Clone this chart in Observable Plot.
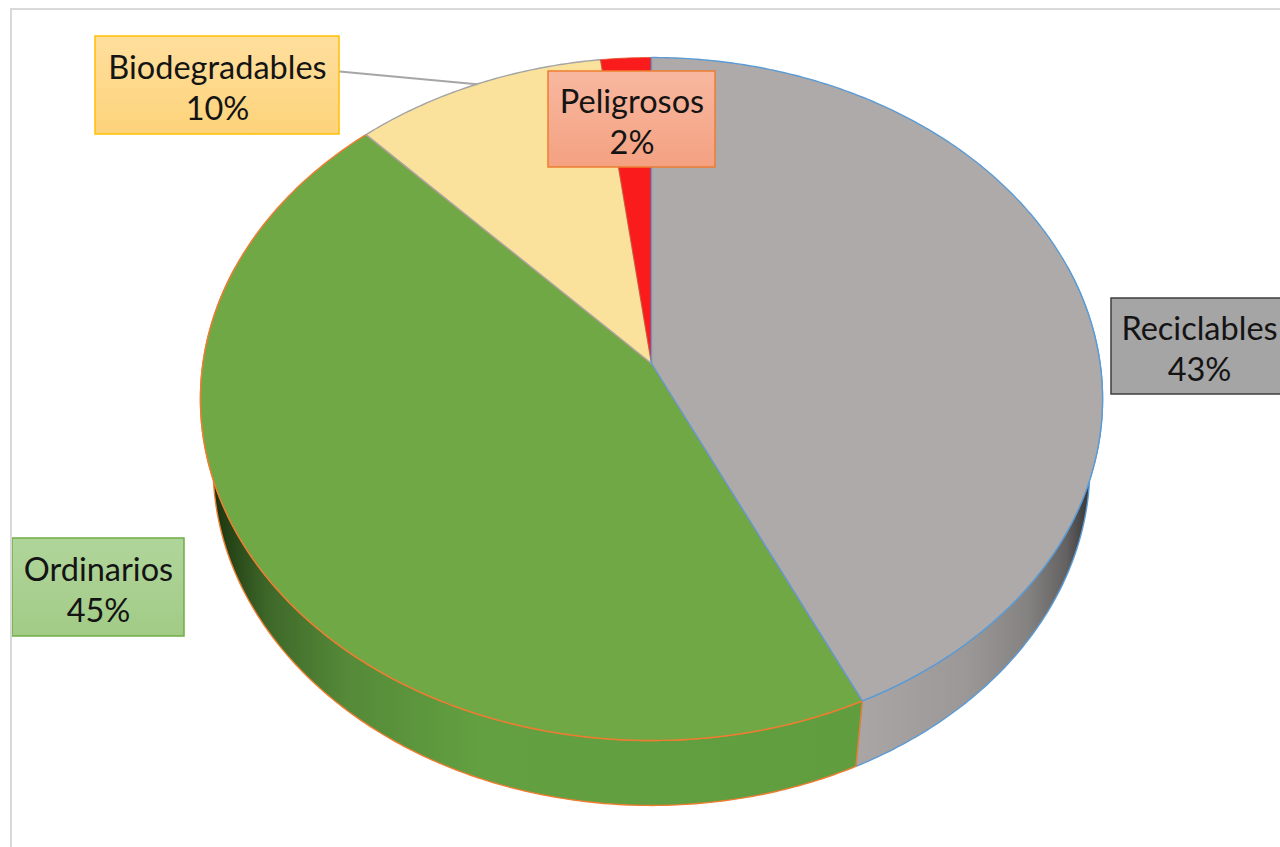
<!DOCTYPE html>
<html>
<head>
<meta charset="utf-8">
<script src="https://cdn.jsdelivr.net/npm/d3@7"></script>
<script src="https://cdn.jsdelivr.net/npm/@observablehq/plot@0.6"></script>
<style>
  html, body { margin: 0; padding: 0; background: white; }
  #wrap { position: relative; width: 1280px; height: 847px; overflow: hidden; }
  #frame { position: absolute; left: 10px; top: 8px; width: 1300px; height: 900px;
           border-top: 2px solid #d9d9d9; border-left: 2px solid #d9d9d9; pointer-events: none; }
</style>
</head>
<body>
<div id="wrap"><div id="chart"></div><div id="frame"></div></div>
<script>
// ---- data ----
const categories = ["Reciclables", "Ordinarios", "Biodegradables", "Peligrosos"];
const values = [43, 45, 10, 2];

// ---- styles (per category) ----
const topColors = { Reciclables: "#aeaaa9", Ordinarios: "#70a845", Biodegradables: "#fae29c", Peligrosos: "#fa1c1c" };
const edgeColors = { Reciclables: "#5b9bd5", Ordinarios: "#ed7d31", Biodegradables: "#a5a5a5", Peligrosos: "#e0502a" };
const sideFills = { Reciclables: "url(#gSideGray)", Ordinarios: "url(#gSideGreen)" };
const boxFills = { Reciclables: "#a5a5a5", Ordinarios: "url(#gBoxGreen)", Biodegradables: "url(#gBoxGold)", Peligrosos: "url(#gBoxSalmon)" };
const boxStrokes = { Reciclables: "#3f3f3f", Ordinarios: "#70ad47", Biodegradables: "#ffc000", Peligrosos: "#ed7d31" };

// ---- label layout (box placement) ----
const labelBoxes = {
  Biodegradables: { x1: 95, x2: 339, y1: 36, y2: 134, lead: [339, 71] },
  Peligrosos: { x1: 548, x2: 715, y1: 71, y2: 167 },
  Reciclables: { x1: 1111, x2: 1292, y1: 298, y2: 394, tx: 1199 },
  Ordinarios: { x1: 12, x2: 184, y1: 538, y2: 636 }
};

// ---- 3D perspective pie geometry ----
const cx = 651, cy = 363;           // projected centre of the top face
const Q = 448.6, S = 337.8, K = 0.104, H = 0.0379;
const sinA = S / Q, cosA = Math.sqrt(1 - sinA * sinA);
const R = K / cosA, F = Q / R;
function proj(theta, depth) {
  const X = R * Math.sin(theta);
  const u = -R * Math.cos(theta);
  const v = u * sinA + depth * cosA;
  const z = 1 - u * cosA + depth * sinA;
  return [cx + F * X / z, cy + F * v / z];
}
function arc(a0, a1, depth) {
  const n = Math.max(2, Math.ceil(Math.abs(a1 - a0) / 0.01));
  const pts = [];
  for (let i = 0; i <= n; i++) pts.push(proj(a0 + (a1 - a0) * i / n, depth));
  return pts;
}

const total = d3.sum(values);
let acc = 0;
const slices = categories.map((c, i) => {
  const a0 = acc / total * 2 * Math.PI;
  acc += values[i];
  const a1 = acc / total * 2 * Math.PI;
  return { cat: c, value: values[i], a0, a1, mid: (a0 + a1) / 2 };
});

const xy = { x: d => d[0], y: d => d[1] };
const marks = [];

// sides (front part only)
const frontMin = Math.PI / 2 - 0.3, frontMax = 3 * Math.PI / 2 + 0.3;
for (const s of slices) {
  if (!sideFills[s.cat]) continue;
  const b0 = Math.max(s.a0, frontMin), b1 = Math.min(s.a1, frontMax);
  if (b1 <= b0) continue;
  const poly = [...arc(b0, b1, 0), ...arc(b1, b0, H)];
  poly.push(poly[0]);
  marks.push(Plot.line(poly, { ...xy, fill: sideFills[s.cat], stroke: edgeColors[s.cat], strokeWidth: 1.4, curve: "linear" }));
}
// tops
for (const cat of ["Ordinarios", "Biodegradables", "Peligrosos", "Reciclables"]) {
  const s = slices.find(d => d.cat === cat);
  const poly = [[cx, cy], ...arc(s.a0, s.a1, 0), [cx, cy]];
  marks.push(Plot.line(poly, { ...xy, fill: topColors[cat], stroke: edgeColors[cat], strokeWidth: cat === "Peligrosos" ? 0.8 : 1.4, curve: "linear" }));
}
// leader line
{
  const s = slices.find(d => d.cat === "Biodegradables");
  const b = labelBoxes.Biodegradables;
  marks.push(Plot.line([b.lead, proj(s.mid, 0)], { ...xy, stroke: "#a6a6a6", strokeWidth: 2 }));
}
// label boxes and texts
for (const s of slices) {
  const b = labelBoxes[s.cat];
  marks.push(Plot.rect([b], { x1: "x1", x2: "x2", y1: "y1", y2: "y2", fill: boxFills[s.cat], stroke: boxStrokes[s.cat], strokeWidth: 1.5 }));
  marks.push(Plot.text([s], {
    x: () => b.tx ?? (b.x1 + b.x2) / 2,
    y: () => (b.y1 + b.y2) / 2 + 1,
    text: d => `${d.cat}\n${d.value}%`,
    fontSize: 32.5, fontFamily: "Lato, 'Open Sans', sans-serif", lineHeight: 1.25,
    fill: "#141414", textAnchor: "middle", lineAnchor: "middle"
  }));
}

const svg = Plot.plot({
  width: 1280, height: 847, margin: 0,
  x: { domain: [0, 1280], range: [0, 1280], axis: null },
  y: { domain: [0, 847], range: [0, 847], axis: null },
  style: { background: "white" },
  marks
});
d3.select(svg).insert("defs", ":first-child").html(`
  <linearGradient id="gSideGray" gradientUnits="userSpaceOnUse" x1="855" y1="0" x2="1100" y2="0">
    <stop offset="0" stop-color="#aaa6a5"/>
    <stop offset="0.45" stop-color="#9b9897"/>
    <stop offset="0.7" stop-color="#858282"/>
    <stop offset="0.86" stop-color="#636161"/>
    <stop offset="0.95" stop-color="#3a3939"/>
    <stop offset="1" stop-color="#262626"/>
  </linearGradient>
  <linearGradient id="gSideGreen" gradientUnits="userSpaceOnUse" x1="202" y1="0" x2="860" y2="0">
    <stop offset="0" stop-color="#0e1c06"/>
    <stop offset="0.03" stop-color="#213d13"/>
    <stop offset="0.1" stop-color="#3e6829"/>
    <stop offset="0.22" stop-color="#558a38"/>
    <stop offset="0.42" stop-color="#62a041"/>
    <stop offset="1" stop-color="#609d3f"/>
  </linearGradient>
  <linearGradient id="gBoxGold" x1="0" y1="0" x2="0" y2="1">
    <stop offset="0" stop-color="#ffdf9e"/>
    <stop offset="1" stop-color="#fdd37a"/>
  </linearGradient>
  <linearGradient id="gBoxSalmon" x1="0" y1="0" x2="0" y2="1">
    <stop offset="0" stop-color="#f8b8a0"/>
    <stop offset="1" stop-color="#f4a181"/>
  </linearGradient>
  <linearGradient id="gBoxGreen" x1="0" y1="0" x2="0" y2="1">
    <stop offset="0" stop-color="#b0d59b"/>
    <stop offset="1" stop-color="#a2cb86"/>
  </linearGradient>
`);
document.getElementById("chart").appendChild(svg);
</script>
</body>
</html>
